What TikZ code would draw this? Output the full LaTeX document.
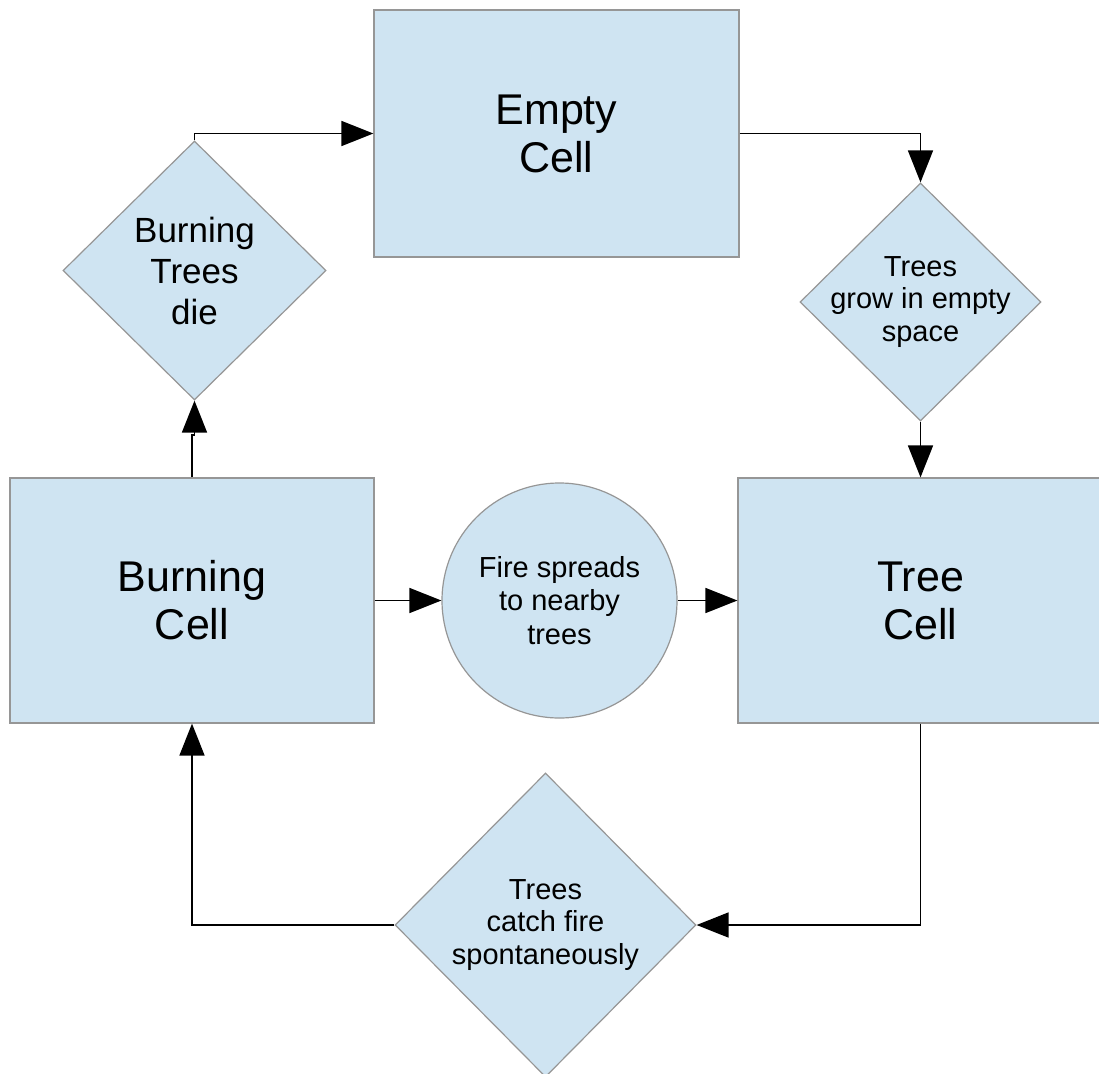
\documentclass[tikz,border=0pt]{standalone}
\usepackage{fontspec}
\setmainfont{Liberation Sans}
\usetikzlibrary{shapes.geometric,arrows.meta}
\definecolor{boxfill}{RGB}{207,228,242}
\definecolor{boxline}{RGB}{150,150,150}
\begin{document}
\begin{tikzpicture}[x=1pt,y=-1pt,
  base/.style={fill=boxfill,draw=boxline,line width=1.2pt,inner sep=0pt,align=center,text=black},
  cellbox/.style={base,rectangle,font=\fontsize{43}{48}\selectfont},
  dia/.style={base,diamond},
  bigtext/.style={align=center,inner sep=0pt,font=\fontsize{35}{41}\selectfont},
  smalltext/.style={align=center,inner sep=0pt,font=\fontsize{29}{32.5}\selectfont},
  roundbox/.style={base,circle,font=\fontsize{29}{33.5}\selectfont},
  arr/.style={draw=black,line width=1.6pt,-{Triangle[length=32pt,width=25pt]}}]
\useasboundingbox (0,0) rectangle (1099,1073);
\begin{scope}
\clip (0,0) rectangle (1099,1073);
\node[cellbox,minimum width=365,minimum height=247] (ec) at (556.5,133.5) {Empty\\Cell};
\node[cellbox,minimum width=364,minimum height=245] (bc) at (192,600.5) {Burning\\Cell};
\node[cellbox,minimum width=365,minimum height=245] (tc) at (920.5,600.5) {Tree\\Cell};
\node[roundbox,minimum size=235] (fs) at (559.5,600.5) {Fire spreads\\to nearby\\trees};
\node[dia,minimum width=263,minimum height=259] (d1) at (194.5,270.5) {};
\node[bigtext] (t1) at (d1.center) {Burning\\Trees\\die};
\node[dia,minimum width=241,minimum height=238] (d2) at (920.5,302) {};
\node[smalltext] (t2) at (d2.center) {Trees\\grow in empty\\space};
\node[dia,minimum width=301,minimum height=304] (d3) at (545.5,925) {};
\node[smalltext] (t3) at (d3.center) {Trees\\catch fire\\spontaneously};
\coordinate (jog) at (192,435);
\draw[arr] (bc.north) -- (jog) -| (d1.south);
\draw[arr] (d1.north) |- (ec.west);
\draw[arr] (ec.east) -| (d2.north);
\draw[arr] (d2.south) -- (tc.north);
\draw[arr] (bc.east) -- (fs.west);
\draw[arr] (fs.east) -- (tc.west);
\draw[arr] (tc.south) |- (d3.east);
\draw[arr] (d3.west) -| (bc.south);
\end{scope}
\end{tikzpicture}
\end{document}
